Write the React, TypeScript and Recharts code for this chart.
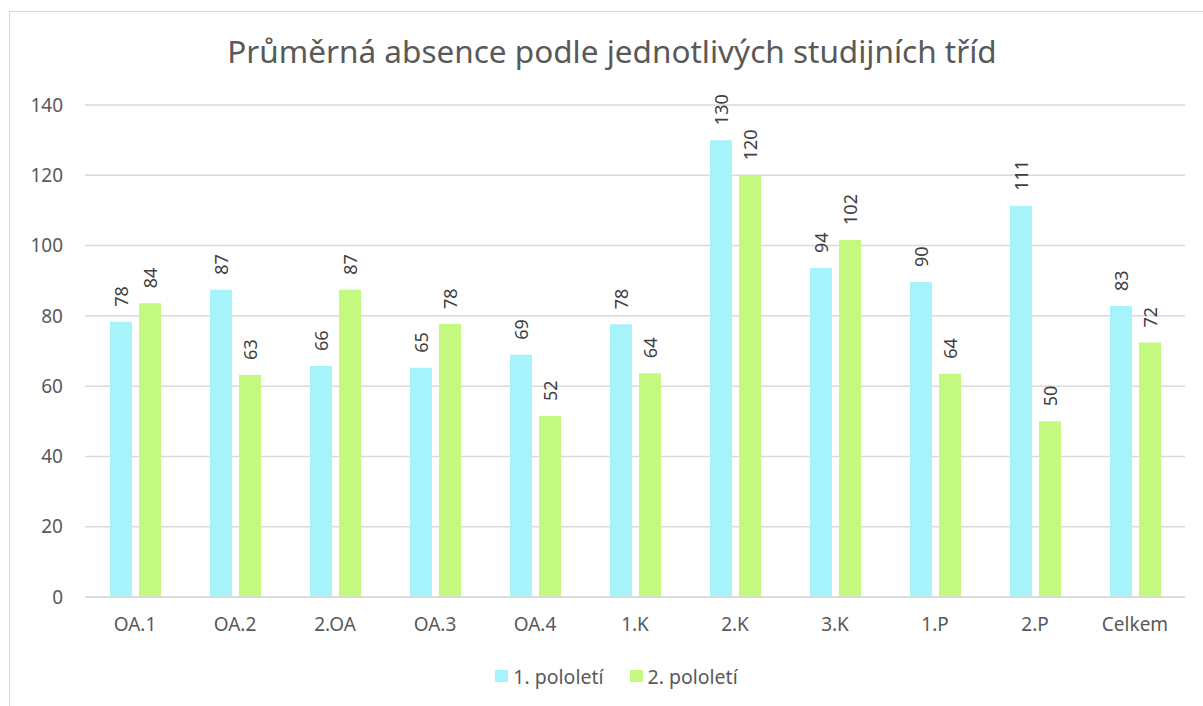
import React from 'react';
import { BarChart, Bar, XAxis, YAxis, CartesianGrid, Legend, LabelList } from 'recharts';

const classes = ['OA.1', 'OA.2', '2.OA', 'OA.3', 'OA.4', '1.K', '2.K', '3.K', '1.P', '2.P', 'Celkem'];
const firstTerm = [78.3, 87.4, 65.7, 65.2, 68.9, 77.6, 130.0, 93.6, 89.6, 111.3, 82.8];
const secondTerm = [83.6, 63.2, 87.4, 77.7, 51.5, 63.7, 120.0, 101.6, 63.5, 50.0, 72.4];
const yTicks = [0, 20, 40, 60, 80, 100, 120, 140];

const data = classes.map((name, i) => ({ name, h1: firstTerm[i], h2: secondTerm[i] }));

const FONT = '"Noto Sans", "Open Sans", sans-serif';
const CYAN = '#a7f3fc';
const GREEN = '#c2f97e';

// value label rotated upwards, sitting just above the bar
const RotatedLabel = (props: any) => {
  const { x, y, width, value } = props;
  const cx = x + width / 2;
  const cy = y - 15;
  return (
    <text
      x={cx}
      y={cy}
      transform={`rotate(-90, ${cx}, ${cy})`}
      textAnchor="start"
      dominantBaseline="central"
      fill="#404040"
      fontSize={18}
      fontFamily={FONT}
    >
      {Math.round(value)}
    </text>
  );
};

const LegendBox = () => (
  <div
    style={{
      display: 'flex',
      justifyContent: 'center',
      alignItems: 'center',
      height: 24,
      paddingLeft: 30,
      fontFamily: FONT,
      fontSize: 19.5,
      color: '#595959',
    }}
  >
    <span style={{ width: 13, height: 12, background: CYAN, marginRight: 5 }} />
    <span style={{ marginRight: 26 }}>1. pololetí</span>
    <span style={{ width: 13, height: 12, background: GREEN, marginRight: 5 }} />
    <span>2. pololetí</span>
  </div>
);

export default function App() {
  return (
    <div style={{ position: 'absolute', left: 0, top: 0, width: 1203, height: 706, overflow: 'hidden', background: '#fff' }}>
      <div
        style={{
          position: 'absolute',
          left: 9,
          top: 11,
          width: 1400,
          height: 900,
          borderTop: '1.5px solid #d9d9d9',
          borderLeft: '1.5px solid #d9d9d9',
        }}
      />
      <div
        style={{
          position: 'absolute',
          top: 29,
          left: 0,
          width: 1224,
          textAlign: 'center',
          fontFamily: FONT,
          fontSize: 31.5,
          color: '#595959',
        }}
      >
        Průměrná absence podle jednotlivých studijních tříd
      </div>
      <div style={{ position: 'absolute', left: 0, top: 0 }}>
        <BarChart
          width={1203}
          height={706}
          data={data}
          margin={{ top: 105, right: 18, left: 0, bottom: 55 }}
          barCategoryGap="25%"
          barGap={7}
        >
          <CartesianGrid vertical={false} stroke="#d9d9d9" strokeWidth={1.5} />
          <XAxis
            dataKey="name"
            axisLine={{ stroke: '#d9d9d9', strokeWidth: 1.5 }}
            tickLine={false}
            tickSize={0}
            tickMargin={21}
            height={30}
            tick={{ fill: '#595959', fontSize: 19, fontFamily: FONT }}
          />
          <YAxis
            domain={[0, 140]}
            ticks={yTicks}
            width={85}
            axisLine={false}
            tickLine={false}
            tickSize={0}
            tickMargin={22}
            tick={{ fill: '#595959', fontSize: 19, fontFamily: FONT }}
          />
          <Legend
            content={<LegendBox />}
            wrapperStyle={{ top: 664, left: 0, width: 1203 }}
          />
          <Bar dataKey="h1" name="1. pololetí" fill={CYAN} isAnimationActive={false}>
            <LabelList dataKey="h1" content={<RotatedLabel />} />
          </Bar>
          <Bar dataKey="h2" name="2. pololetí" fill={GREEN} isAnimationActive={false}>
            <LabelList dataKey="h2" content={<RotatedLabel />} />
          </Bar>
        </BarChart>
      </div>
    </div>
  );
}
